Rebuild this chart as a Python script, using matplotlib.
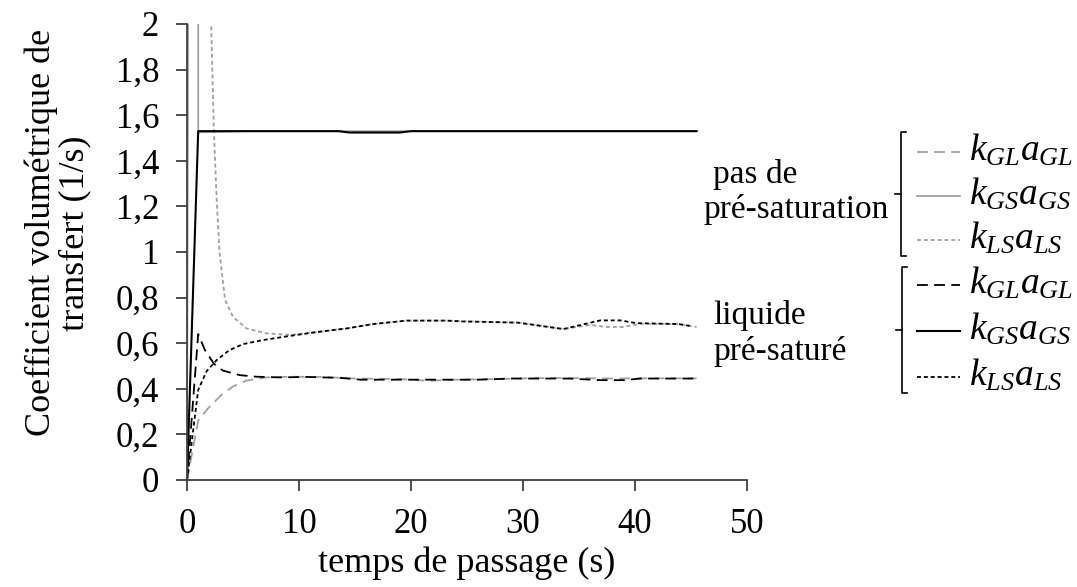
import matplotlib
matplotlib.use('Agg')
import matplotlib.pyplot as plt
from matplotlib.lines import Line2D
from matplotlib.ticker import FuncFormatter

# --- data (x = temps de passage, y = coefficient 1/s) ---
# pas de pre-saturation
x_gl_ns = [0, 1.0, 1.8, 3.0, 4.1, 5.3, 7.1, 9.2, 12, 15, 19, 21.5, 24, 28, 31, 35, 38, 41, 45.5]
y_gl_ns = [0, 0.26, 0.31, 0.37, 0.41, 0.436, 0.45, 0.453, 0.452, 0.445, 0.443, 0.435, 0.44, 0.443,
           0.447, 0.447, 0.445, 0.446, 0.446]
x_gs_ns = [0, 0.95, 1.0, 5.5, 45.5]
y_gs_ns = [0, 20.0, 1.525, 1.53, 1.53]
x_ls_ns = [2.0, 2.4, 2.65, 2.9, 3.4, 4.1, 5.3, 7.1, 9.2, 12, 14.3, 16.6, 19.6, 23.2, 26.2, 29.6,
           33.6, 36, 37.5, 38.9, 40.5, 43.9, 45.5]
y_ls_ns = [2.3, 1.53, 1.23, 1.0, 0.79, 0.716, 0.665, 0.643, 0.636, 0.651, 0.665, 0.684, 0.699,
           0.699, 0.694, 0.69, 0.662, 0.68, 0.671, 0.671, 0.685, 0.684, 0.671]
# liquide pre-sature
x_gl_ps = [0, 1.0, 1.6, 2.4, 3.2, 4.7, 6.2, 8.3, 10.7, 13.7, 15.5, 20, 26, 29, 34, 37, 39, 40.5, 45.5]
y_gl_ps = [0, 0.64, 0.57, 0.51, 0.48, 0.46, 0.453, 0.45, 0.452, 0.448, 0.44, 0.44, 0.44, 0.445,
           0.445, 0.438, 0.438, 0.445, 0.445]
x_gs_ps = [0, 1.0, 13.5, 14.5, 19, 20, 45.5]
y_gs_ps = [0, 1.53, 1.53, 1.524, 1.524, 1.53, 1.53]
x_ls_ps = [0, 1.0, 1.75, 2.65, 3.8, 5.0, 6.8, 9.2, 11.9, 14.3, 16.6, 19.6, 23.2, 24.7, 26.2, 29.6,
           33.6, 36.9, 38.7, 40.1, 43.9, 45.0]
y_ls_ps = [0, 0.395, 0.477, 0.526, 0.57, 0.596, 0.614, 0.632, 0.651, 0.665, 0.684, 0.699, 0.699,
           0.695, 0.694, 0.69, 0.662, 0.70, 0.70, 0.688, 0.684, 0.675]

labels = [r'$k_{GL}a_{GL}$', r'$k_{GS}a_{GS}$', r'$k_{LS}a_{LS}$']
yticks = [0, 0.2, 0.4, 0.6, 0.8, 1.0, 1.2, 1.4, 1.6, 1.8, 2.0]
xticks = [0, 10, 20, 30, 40, 50]

plt.rcParams['font.family'] = ['Liberation Serif', 'DejaVu Serif']
plt.rcParams['mathtext.fontset'] = 'custom'
plt.rcParams['mathtext.it'] = 'Liberation Serif:italic'
plt.rcParams['mathtext.rm'] = 'Liberation Serif'

W, H = 1077, 587
fig = plt.figure(figsize=(W / 100, H / 100), dpi=100)
ax = fig.add_axes([187 / W, 1 - 480 / H, 560 / W, 456 / H])

grey = '#a0a0a0'
dash = (0, (6, 3.5))
dot = (0, (2.2, 1.6))
styles = [
    dict(color=grey, lw=1.3, ls=dash),
    dict(color=grey, lw=1.3, ls='-'),
    dict(color=grey, lw=1.3, ls=dot),
    dict(color='black', lw=1.3, ls=dash),
    dict(color='black', lw=1.5, ls='-'),
    dict(color='black', lw=1.3, ls=dot),
]
series = [(x_gl_ns, y_gl_ns), (x_gs_ns, y_gs_ns), (x_ls_ns, y_ls_ns),
          (x_gl_ps, y_gl_ps), (x_gs_ps, y_gs_ps), (x_ls_ps, y_ls_ps)]
for (xs, ys), st in zip(series, styles):
    ax.plot(xs, ys, **st)

ax.set_xlim(0, 50)
ax.set_ylim(0, 2)
ax.set_xticks(xticks)
ax.set_yticks(yticks)
ax.yaxis.set_major_formatter(FuncFormatter(lambda v, p: ('%g' % round(v, 1)).replace('.', ',')))
for s in ['top', 'right']:
    ax.spines[s].set_visible(False)
for s in ['left', 'bottom']:
    ax.spines[s].set_color('#404040')
    ax.spines[s].set_linewidth(1.3)
ax.tick_params(length=8, width=1.3, color='#404040', labelsize=25, pad=12)

ax.set_xlabel('temps de passage (s)', fontsize=26, labelpad=4)
ax.set_ylabel('Coefficient volumétrique de\ntransfert (1/s)', fontsize=26, linespacing=1.05)
ax.yaxis.set_label_coords(-0.17, 0.542)


def fpt(px, py):
    return px / W, 1 - py / H


# group captions
for txt, px, py in [('pas de', 713, 183), ('pré-saturation', 703, 218),
                    ('liquide', 713, 324), ('pré-saturé', 713, 360)]:
    fig.text(*fpt(px, py), txt, fontsize=24, ha='left', va='baseline')

# brackets
for bx, top, bot in [(901, 132, 256), (902, 267, 393)]:
    mid = (top + bot) / 2
    xs = [bx + 5, bx, bx, bx + 5]
    ys = [top, top, bot, bot]
    fig.add_artist(Line2D([p / W for p in xs], [1 - p / H for p in ys], color='black', lw=1.2))
    fig.add_artist(Line2D([(bx - 6) / W, bx / W], [1 - mid / H, 1 - mid / H], color='black', lw=1.2))

# legend entries
rows = [152, 196, 240, 285, 331, 377]
for i, (ry, st) in enumerate(zip(rows, styles)):
    fig.add_artist(Line2D([917 / W, 960 / W], [1 - ry / H, 1 - ry / H], **st))
    fig.text(*fpt(969, ry - 2), labels[i % 3], fontsize=27, ha='left', va='center')

fig.savefig('out.png', dpi=100)
